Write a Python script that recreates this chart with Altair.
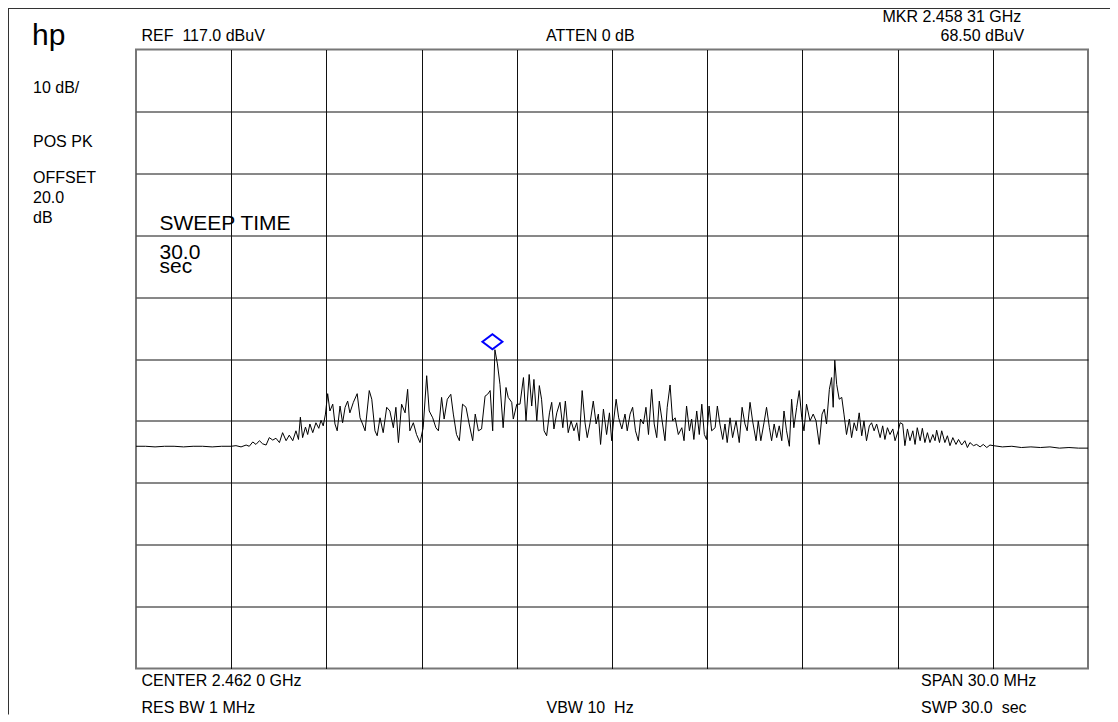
import altair as alt
import pandas as pd

# ---------------- data ----------------
freq_mhz = [
    2447.00, 2447.30, 2447.60, 2447.90, 2448.20, 2448.50, 2448.80, 2449.10, 2449.40, 2449.70, 2450.00,
    2450.15, 2450.31, 2450.47, 2450.57, 2450.68, 2450.78, 2450.89, 2450.99, 2451.10, 2451.20,
    2451.31, 2451.41, 2451.52, 2451.62, 2451.73, 2451.83, 2451.94, 2452.04, 2452.12, 2452.18,
    2452.25, 2452.34, 2452.41, 2452.48, 2452.57, 2452.67, 2452.76, 2452.83, 2452.90, 2452.97, 2453.04,
    2453.11, 2453.20, 2453.27, 2453.34, 2453.43, 2453.51, 2453.59, 2453.67, 2453.74, 2453.85,
    2453.97, 2454.06, 2454.14, 2454.22, 2454.35, 2454.43, 2454.53, 2454.60, 2454.69, 2454.79,
    2454.90, 2455.00, 2455.11, 2455.19, 2455.27, 2455.37, 2455.48, 2455.56, 2455.63, 2455.74,
    2455.84, 2455.95, 2456.05, 2456.16, 2456.24, 2456.35, 2456.45, 2456.53, 2456.63, 2456.71,
    2456.81, 2456.92, 2457.00, 2457.10, 2457.19, 2457.29, 2457.40, 2457.50, 2457.61, 2457.69,
    2457.79, 2457.89, 2458.00, 2458.08, 2458.16, 2458.24, 2458.31, 2458.39, 2458.47, 2458.57,
    2458.66, 2458.73, 2458.84, 2458.89, 2459.00,
    2459.10, 2459.21, 2459.29, 2459.39, 2459.47, 2459.54, 2459.63, 2459.71, 2459.78, 2459.86,
    2459.94, 2460.03, 2460.10, 2460.17, 2460.26, 2460.36, 2460.45, 2460.53, 2460.62, 2460.71,
    2460.80, 2460.89, 2460.97, 2461.06, 2461.15, 2461.22, 2461.31, 2461.41, 2461.50, 2461.57,
    2461.64, 2461.73, 2461.83, 2461.92, 2461.99, 2462.04, 2462.13, 2462.21, 2462.31, 2462.41,
    2462.48, 2462.57, 2462.65, 2462.74, 2462.83, 2462.90, 2462.99, 2463.07, 2463.15, 2463.25,
    2463.33, 2463.41, 2463.49, 2463.58, 2463.67, 2463.74, 2463.83, 2463.91, 2463.99, 2464.09,
    2464.20, 2464.27, 2464.35, 2464.44, 2464.51, 2464.58, 2464.67, 2464.75, 2464.83, 2464.91,
    2464.98, 2465.06,
    2465.14, 2465.25, 2465.32, 2465.40, 2465.49, 2465.56, 2465.63, 2465.72, 2465.80, 2465.91,
    2466.01, 2466.10, 2466.19, 2466.26, 2466.35, 2466.43, 2466.54, 2466.61, 2466.69, 2466.79,
    2466.87, 2466.96, 2467.03, 2467.11, 2467.19, 2467.27, 2467.35, 2467.42, 2467.50, 2467.59,
    2467.66, 2467.73, 2467.82, 2467.90, 2467.98, 2468.05, 2468.13, 2468.24, 2468.34, 2468.43,
    2468.53, 2468.62, 2468.69, 2468.76, 2468.85, 2468.92, 2468.97, 2469.02, 2469.08, 2469.16,
    2469.24, 2469.31, 2469.39, 2469.48, 2469.55, 2469.63, 2469.71, 2469.79, 2469.87, 2469.94,
    2470.02, 2470.11, 2470.18, 2470.26, 2470.34, 2470.45, 2470.53, 2470.60, 2470.68, 2470.76,
    2470.85, 2470.92, 2471.02,
    2471.08, 2471.16, 2471.23, 2471.31, 2471.39, 2471.48, 2471.55, 2471.62, 2471.71, 2471.78,
    2471.86, 2471.94, 2472.02, 2472.11, 2472.18, 2472.23, 2472.32, 2472.39, 2472.49, 2472.57,
    2472.65, 2472.74, 2472.84, 2472.92, 2473.02, 2473.12, 2473.20, 2473.28, 2473.39, 2473.49,
    2473.60, 2473.70, 2473.81, 2473.91, 2474.02, 2474.30, 2474.60, 2474.90, 2475.20, 2475.50,
    2475.80, 2476.10, 2476.40, 2476.70, 2477.00,
]

level_dbuv = [
    52.9, 52.9, 52.8, 52.9, 52.9, 52.8, 52.9, 52.9, 52.8, 52.9, 52.9,
    53.0, 52.8, 53.1, 52.9, 53.6, 53.2, 53.8, 53.3, 53.1, 54.3,
    53.9, 54.2, 53.5, 55.1, 53.8, 54.7, 53.8, 55.4, 54.0, 57.6,
    54.3, 56.0, 54.8, 56.5, 55.1, 56.7, 55.8, 57.1, 56.2, 58.1, 61.4,
    58.6, 59.7, 56.5, 55.4, 59.4, 56.7, 59.2, 60.2, 58.3, 60.0,
    61.4, 57.5, 56.5, 55.4, 61.9, 60.5, 55.4, 54.6, 57.5, 55.1,
    59.2, 58.6, 55.9, 59.2, 53.5, 59.7, 58.3, 62.1, 55.4, 56.7,
    54.8, 53.5, 55.9, 64.3, 58.6, 57.5, 55.9, 55.4, 60.8, 57.3,
    60.5, 61.3, 58.1, 54.8, 53.8, 59.7, 59.2, 56.5, 53.8, 58.1,
    55.4, 55.7, 61.0, 61.3, 61.9, 55.4, 68.5, 66.2, 62.9, 55.9,
    62.4, 60.8, 60.0, 57.3, 59.7,
    59.7, 64.0, 57.0, 64.5, 59.4, 63.7, 57.0, 62.7, 60.5, 55.4,
    54.6, 58.3, 60.0, 55.7, 58.3, 60.0, 55.9, 60.2, 55.1, 57.0,
    55.4, 56.7, 53.8, 61.9, 56.7, 54.3, 56.7, 60.2, 56.5, 58.1,
    53.2, 58.9, 54.8, 58.3, 53.8, 56.5, 60.5, 57.5, 55.7, 58.1,
    55.4, 58.1, 59.2, 55.4, 53.8, 57.3, 56.5, 59.2, 54.8, 62.1,
    56.5, 54.3, 60.2, 57.0, 53.8, 59.2, 62.8, 57.0, 57.5, 54.8,
    55.9, 53.8, 59.4, 55.4, 57.3, 54.0, 58.6, 54.8, 59.7, 54.8,
    54.0, 59.4,
    55.4, 55.9, 59.4, 56.5, 54.0, 56.5, 53.5, 57.5, 54.3, 57.0,
    53.5, 59.2, 56.5, 55.4, 60.0, 57.0, 53.8, 57.0, 53.8, 56.7,
    59.2, 55.9, 53.8, 56.5, 54.3, 56.2, 53.8, 58.6, 55.4, 52.9,
    60.5, 55.9, 59.2, 61.9, 57.5, 55.4, 59.7, 57.0, 58.1, 57.0,
    53.2, 58.1, 58.9, 56.5, 62.1, 64.0, 59.2, 66.8, 62.9, 60.5,
    60.8, 58.1, 54.8, 57.3, 54.3, 56.7, 55.4, 58.3, 54.6, 57.0,
    53.8, 56.2, 56.7, 55.4, 56.5, 54.3, 56.2, 54.0, 55.9, 54.8,
    55.7, 53.8, 55.4,
    56.7, 56.5, 53.0, 55.7, 53.8, 55.4, 53.2, 55.9, 53.8, 55.8,
    53.5, 55.1, 53.5, 54.8, 53.8, 55.5, 53.5, 55.4, 53.5, 54.6,
    53.0, 54.3, 53.2, 54.0, 53.1, 53.8, 52.7, 53.5, 53.0, 53.2,
    52.8, 53.2, 52.7, 53.1, 53.0, 52.8, 52.9, 52.7, 52.8, 52.7,
    52.8, 52.6, 52.7, 52.6, 52.6,
]

marker_freq = [2458.31]
marker_level = [68.5]

freq_domain = [2447, 2477]          # CENTER 2.462 0 GHz, SPAN 30 MHz
level_domain = [17, 117]            # REF 117.0 dBuV, 10 dB/div
x_grid = [2450, 2453, 2456, 2459, 2462, 2465, 2468, 2471, 2474]
y_grid = [27, 37, 47, 57, 67, 77, 87, 97, 107]

# ---------------- layout constants ----------------
PLOT_W, PLOT_H = 952, 619
PAD_L, PAD_T, PAD_R, PAD_B = 128, 41.5, 22, 46
ORIGIN_X, ORIGIN_Y = PAD_L + 8, PAD_T + 8   # page coordinates of the plot origin
FONT = "Liberation Sans"

trace = pd.DataFrame({"f": freq_mhz, "l": level_dbuv})
marker = pd.DataFrame({"f": marker_freq, "l": marker_level})

x_enc = alt.X(
    "f:Q",
    scale=alt.Scale(domain=freq_domain, nice=False, zero=False),
    axis=alt.Axis(values=x_grid, grid=True, gridColor="#111111", gridOpacity=1, gridWidth=1,
                  labels=False, ticks=False, domain=False, title=""),
)
y_enc = alt.Y(
    "l:Q",
    scale=alt.Scale(domain=level_domain, nice=False, zero=False),
    axis=alt.Axis(values=y_grid, grid=True, gridColor="#111111", gridOpacity=1, gridWidth=1,
                  labels=False, ticks=False, domain=False, title=""),
)

line = alt.Chart(trace).mark_line(color="black", strokeWidth=1, interpolate="linear").encode(
    x=x_enc, y=y_enc
)

mkr = alt.Chart(marker).mark_point(
    shape="M-1,0L0,-0.75L1,0L0,0.75Z", size=400, filled=False, stroke="#0000ff",
    strokeWidth=2, opacity=1, xOffset=-2.5, yOffset=-8,
).encode(x="f:Q", y="l:Q")

dummy = pd.DataFrame({"d": [0]})


def label(txt, X, Y, size=16):
    return alt.Chart(dummy).mark_text(
        text=txt, align="left", baseline="alphabetic", font=FONT, fontSize=size, color="black"
    ).encode(x=alt.value(X - ORIGIN_X), y=alt.value(Y - ORIGIN_Y))


labels = [
    label("hp", 32, 45, 30),
    label("REF\u00a0 117.0 dBuV", 141.5, 40.5),
    label("ATTEN 0 dB", 546, 40.5),
    label("MKR 2.458 31 GHz", 882.5, 22),
    label("68.50 dBuV", 940.5, 40.5),
    label("10 dB/", 33, 93),
    label("POS PK", 33, 146.5),
    label("OFFSET", 33, 182.5),
    label("20.0", 33, 203),
    label("dB", 33, 222.5),
    label("SWEEP TIME", 159.5, 230, 21),
    label("30.0", 159.5, 259, 21),
    label("sec", 159.5, 273, 21),
    label("CENTER 2.462 0 GHz", 141.5, 686),
    label("RES BW 1 MHz", 141.5, 713),
    label("VBW 10\u00a0 Hz", 546.5, 713),
    label("SPAN 30.0 MHz", 921, 686),
    label("SWP 30.0\u00a0 sec", 921, 713),
]

frame_top = alt.Chart(dummy).mark_rule(color="#333333", strokeWidth=1).encode(
    x=alt.value(-PAD_L), x2=alt.value(PLOT_W + PAD_R), y=alt.value(-PAD_T + 0.5)
)
frame_left = alt.Chart(dummy).mark_rule(color="#333333", strokeWidth=1).encode(
    x=alt.value(-PAD_L + 0.5), y=alt.value(-PAD_T + 0.5), y2=alt.value(PLOT_H + PAD_B)
)

chart = alt.layer(line, mkr, frame_top, frame_left, *labels).properties(
    width=PLOT_W,
    height=PLOT_H,
    autosize=alt.AutoSizeParams(type="none"),
    padding={"left": PAD_L, "top": PAD_T, "right": PAD_R, "bottom": PAD_B},
    background="white",
).configure_view(stroke="#777777", strokeWidth=2)

chart.save("out.html", embed_options={"renderer": "svg", "actions": False})
